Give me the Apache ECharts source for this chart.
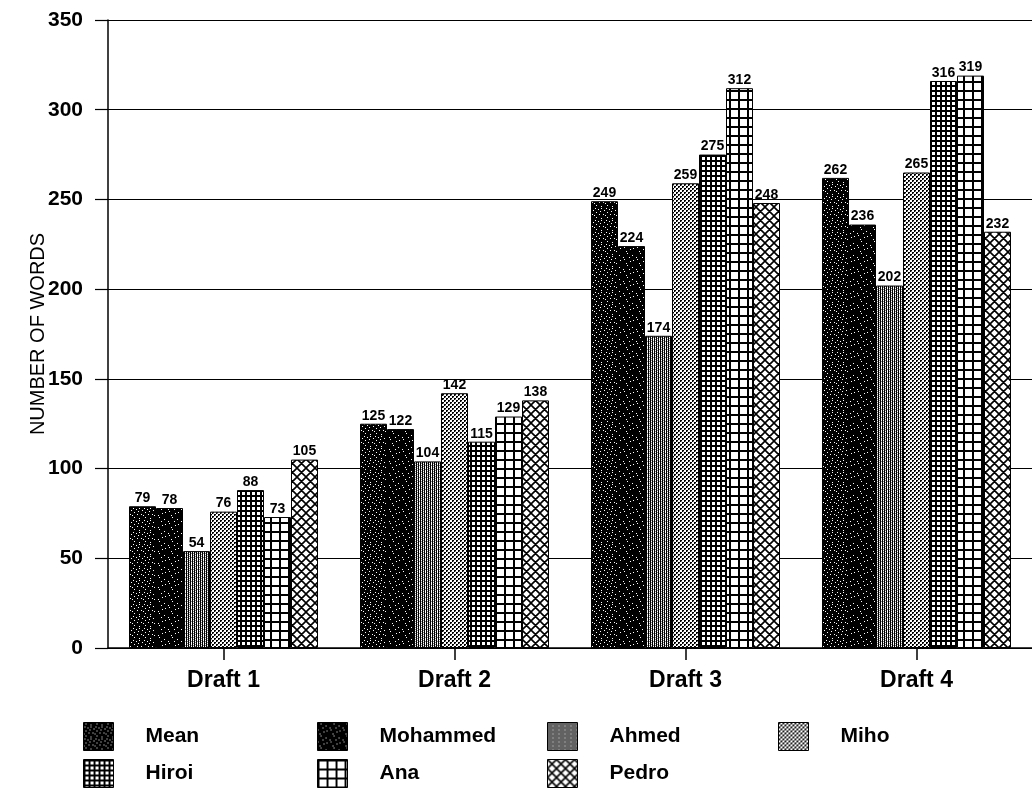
<!DOCTYPE html>
<html><head><meta charset="utf-8">
<script src="https://cdn.jsdelivr.net/npm/echarts@6/dist/echarts.min.js"></script>
<style>html,body{margin:0;padding:0;background:#fff}#c{width:1032px;height:790px}</style>
</head><body><div id="c"></div>
<script>
const categories = ['Draft 1','Draft 2','Draft 3','Draft 4'];
const seriesNames = ['Mean','Mohammed','Ahmed','Miho','Hiroi','Ana','Pedro'];
const mean = [79,125,249,262];
const mohammed = [78,122,224,236];
const ahmed = [54,104,174,202];
const miho = [76,142,259,265];
const hiroi = [88,115,275,316];
const ana = [73,129,312,319];
const pedro = [105,138,248,232];
const seriesValues = [mean,mohammed,ahmed,miho,hiroi,ana,pedro];

function bitmap(rows){
  const h=rows.length,w=rows[0].length;
  const c=document.createElement('canvas');c.width=w;c.height=h;
  const x=c.getContext('2d');
  for(let j=0;j<h;j++)for(let i=0;i<w;i++){
    const ch=rows[j][i];
    x.fillStyle=ch==='#'?'#000':(ch==='+'?'#8a8a8a':'#fff');x.fillRect(i,j,1,1);
  }
  return c;
}
function gridRows(period, line){
  const rows=[];
  for(let j=0;j<period;j++){let r='';for(let i=0;i<period;i++)r+=(i<line||j<line)?'#':'.';rows.push(r);}
  return rows;
}
function pat(type){
  let c;
  if(type==='mean'){
    c=bitmap(['###########','##.########','#######.###','###########','#.#####.###','####.######','##########.','######.####','##.########','###########','#####.###.#','.##########']);
  } else if(type==='moh'){
    c=bitmap(['#############','###.#########','#############','########.####','#############','#####.######.','#############','.############','#########.###','######.######','#############','##.##########']);
  } else if(type==='ahmed'){
    c=bitmap(['#.#+#.','#+#.#+','#.#+#.','#+#.#.']);
  } else if(type==='miho'){
    c=bitmap(['##..','#+..','..##','..#+']);
  } else if(type==='hiroi'){
    c=bitmap(gridRows(5,2));
  } else if(type==='ana'){
    c=bitmap(gridRows(9,2));
  } else {
    const p=9;
    c=document.createElement('canvas');c.width=p;c.height=p;
    const x=c.getContext('2d');x.fillStyle='#fff';x.fillRect(0,0,p,p);
    x.strokeStyle='#000';x.lineWidth=1.6;
    x.beginPath();
    for(let k=-1;k<=1;k++){
      x.moveTo(k*p,0);x.lineTo(k*p+p,p);
      x.moveTo(k*p+p,0);x.lineTo(k*p,p);
    }
    x.stroke();
  }
  return {image:c,repeat:'repeat'};
}
const patterns=[pat('mean'),pat('moh'),pat('ahmed'),pat('miho'),pat('hiroi'),pat('ana'),pat('pedro')];

const FONT='Liberation Sans, Arial, sans-serif';
const legendPos=[[83,722],[317,722],[547,722],[778,722],[83,759],[317,759],[547,759]];
const chart=echarts.init(document.getElementById('c'));
chart.setOption({
  animation:false,
  backgroundColor:'#fff',
  grid:{left:108,top:20,width:932,bottom:142,containLabel:false},
  legend: seriesNames.map((n,i)=>({data:[n],left:legendPos[i][0],top:legendPos[i][1],padding:0,itemWidth:30,itemHeight:28,itemGap:0,icon:'rect',
    itemStyle:{borderColor:'#000',borderWidth:1},
    textStyle:{fontFamily:FONT,fontSize:21,fontWeight:'bold',color:'#000',padding:[0,0,0,27]},selectedMode:false})),
  xAxis:{type:'category',data:categories,
    axisLine:{lineStyle:{color:'#000',width:1.5}},
    axisTick:{show:true,alignWithLabel:true,length:12,lineStyle:{color:'#000',width:1.5}},
    axisLabel:{fontFamily:FONT,fontSize:23,fontWeight:'bold',color:'#000',margin:21}},
  yAxis:{type:'value',min:0,max:350,interval:50,
    name:'NUMBER OF WORDS',nameLocation:'middle',nameGap:60,nameRotate:90,nameMoveOverlap:false,
    nameTextStyle:{fontFamily:FONT,fontSize:20,color:'#000'},
    axisLine:{show:true,lineStyle:{color:'#000',width:1.5}},
    axisTick:{show:true,inside:false,length:13,lineStyle:{color:'#000',width:1.2}},
    splitLine:{lineStyle:{color:'#000',width:1.2}},
    axisLabel:{fontFamily:FONT,fontSize:21,fontWeight:'bold',color:'#000',margin:25}},
  series: seriesNames.map((n,i)=>({name:n,type:'bar',data:seriesValues[i],
    barGap:'0%',barWidth:27,
    itemStyle:{color:patterns[i],borderColor:'#000',borderWidth:1},
    label:{show:true,position:'top',distance:1,fontFamily:FONT,fontSize:14,fontWeight:'bold',color:'#000'}}))
});
</script></body></html>
